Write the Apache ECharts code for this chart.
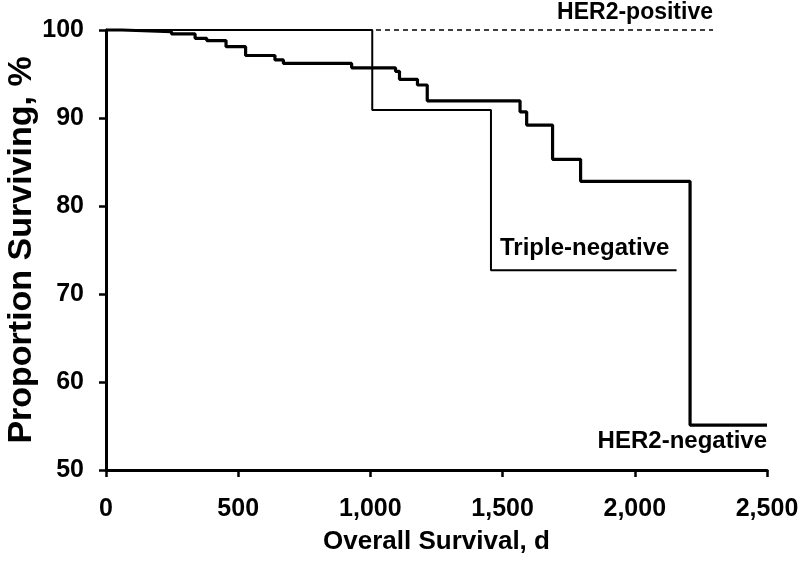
<!DOCTYPE html>
<html>
<head>
<meta charset="utf-8">
<script src="https://cdn.jsdelivr.net/npm/echarts@6/dist/echarts.min.js"></script>
<style>
html,body{margin:0;padding:0;background:#fff;}
#c{width:800px;height:569px;}
</style>
</head>
<body>
<div id="c"></div>
<script>
// Kaplan-Meier step data [day, % surviving]
var her2NegDays = [0, 60, 248, 337, 381, 454, 528, 639, 671, 929, 1095, 1110, 1178, 1215, 1566, 1591, 1689, 1795, 2209, 2500];
var her2NegVals = [100, 99.8, 99.55, 99.05, 98.8, 98.1, 97.1, 96.6, 96.2, 95.7, 95.3, 94.4, 93.75, 91.95, 90.7, 89.2, 85.3, 82.8, 55.1, 55.1];
var tripleNegDays = [0, 1007, 1456, 2158];
var tripleNegVals = [100, 90.9, 72.7, 72.7];
var her2PosDays = [0, 2296];
var her2PosVals = [100, 100];
var xTicks = [0, 500, 1000, 1500, 2000, 2500];
var yTicks = [50, 60, 70, 80, 90, 100];
var seriesNames = ['HER2-negative', 'Triple-negative', 'HER2-positive'];

function pairs(xs, ys){ return xs.map(function(x,i){ return [x, ys[i]]; }); }

var chart = echarts.init(document.getElementById('c'), null, {renderer:'canvas'});
var FONT = '"Liberation Sans", Arial, sans-serif';
var option = {
  animation: false,
  backgroundColor: '#fff',
  grid: {left: 106, top: 30, right: 33, bottom: 99, containLabel: false, outerBoundsMode: 'none'},
  xAxis: {
    type: 'value', min: xTicks[0], max: xTicks[xTicks.length-1], interval: 500,
    name: 'Overall Survival, d', nameLocation: 'middle', nameGap: 59, nameMoveOverlap: false,
    nameTextStyle: {fontFamily: FONT, fontWeight: 'bold', fontSize: 26, color: '#000'},
    axisLine: {show: true, lineStyle: {color: '#000', width: 3}},
    axisTick: {show: true, length: 7, inside: false, lineStyle: {color: '#000', width: 2.5}},
    axisLabel: {fontFamily: FONT, fontWeight: 'bold', fontSize: 25, color: '#000', margin: 27,
      hideOverlap: false, showMinLabel: true, showMaxLabel: true,
      formatter: function(v){ return v.toLocaleString('en-US'); }},
    splitLine: {show: false}
  },
  yAxis: {
    type: 'value', min: yTicks[0], max: yTicks[yTicks.length-1], interval: 10,
    name: 'Proportion Surviving, %', nameLocation: 'middle', nameGap: 67, nameMoveOverlap: false,
    nameTextStyle: {fontFamily: FONT, fontWeight: 'bold', fontSize: 34, color: '#000'},
    axisLine: {show: true, lineStyle: {color: '#000', width: 3}},
    axisTick: {show: true, length: 7, inside: false, lineStyle: {color: '#000', width: 2.5}},
    axisLabel: {fontFamily: FONT, fontWeight: 'bold', fontSize: 25, color: '#000', margin: 22},
    splitLine: {show: false}
  },
  series: [
    {name: seriesNames[2], type: 'line', step: 'end', symbol: 'none', clip: false,
     data: pairs(her2PosDays, her2PosVals),
     lineStyle: {color: '#000', width: 1.5, type: [5, 4]}, z: 1},
    {name: seriesNames[1], type: 'line', step: 'end', symbol: 'none', clip: false,
     data: pairs(tripleNegDays, tripleNegVals),
     lineStyle: {color: '#000', width: 2}, z: 2},
    {name: seriesNames[0], type: 'line', step: 'end', symbol: 'none', clip: false,
     data: pairs(her2NegDays, her2NegVals),
     lineStyle: {color: '#000', width: 3.2}, z: 3}
  ],
  graphic: [
    {type: 'text', right: 87, top: 1, style: {text: seriesNames[2], font: 'bold 23px ' + FONT, fill: '#000'}},
    {type: 'text', left: 500, top: 236, style: {text: seriesNames[1], font: 'bold 24px ' + FONT, fill: '#000'}},
    {type: 'text', right: 33, top: 429, style: {text: seriesNames[0], font: 'bold 24px ' + FONT, fill: '#000'}}
  ]
};
chart.setOption(option);
</script>
</body>
</html>
